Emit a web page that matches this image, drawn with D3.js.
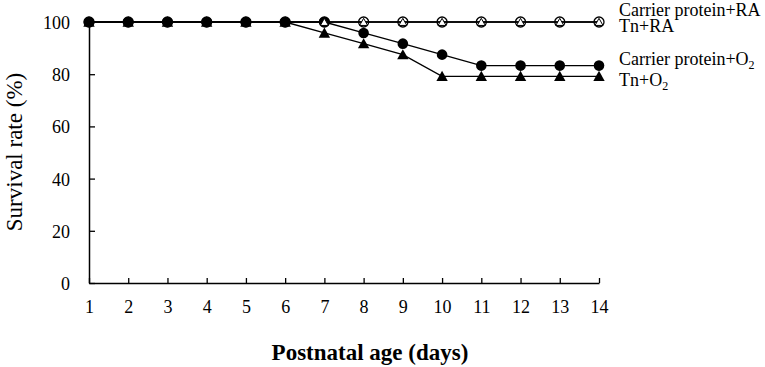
<!DOCTYPE html>
<html>
<head>
<meta charset="utf-8">
<script src="https://cdn.jsdelivr.net/npm/d3@7"></script>
<style>
  html, body { margin: 0; padding: 0; background: #fff; }
  svg text { font-family: "Liberation Serif", "DejaVu Serif", serif; fill: #000; }
</style>
</head>
<body>
<div id="chart"></div>
<script>
// days on x axis
const days = [1, 2, 3, 4, 5, 6, 7, 8, 9, 10, 11, 12, 13, 14];
const yTicks = [0, 20, 40, 60, 80, 100];

// survival rate (%)
const carrierRA = [100, 100, 100, 100, 100, 100, 100, 100, 100, 100, 100, 100, 100, 100];
const tnRA      = [100, 100, 100, 100, 100, 100, 100, 100, 100, 100, 100, 100, 100, 100];
const carrierO2 = [100, 100, 100, 100, 100, 100, 100, 95.8, 91.7, 87.5, 83.3, 83.3, 83.3, 83.3];
const tnO2      = [100, 100, 100, 100, 100, 100, 95.8, 91.7, 87.5, 79.2, 79.2, 79.2, 79.2, 79.2];

const w = 765, h = 367;
const pLeft = 89, pRight = 599, pTop = 22, pBottom = 283;

const svg = d3.select("#chart").append("svg")
  .attr("width", w).attr("height", h);

const x = d3.scaleLinear().domain([1, 14]).range([pLeft, pRight]);
const y = d3.scaleLinear().domain([0, 100]).range([pBottom, pTop]);

// axes
const xAxis = d3.axisBottom(x).tickValues(days).tickSizeInner(-5).tickSizeOuter(0).tickPadding(17);
const yAxis = d3.axisLeft(y).tickValues(yTicks).tickSizeInner(-6).tickSizeOuter(0).tickPadding(19);

const gx = svg.append("g").attr("transform", "translate(0," + pBottom + ")").call(xAxis);
const gy = svg.append("g").attr("transform", "translate(" + pLeft + ",0)").call(yAxis);

[gx, gy].forEach(g => {
  g.attr("font-family", null);
  g.select(".domain").attr("stroke", "#000").attr("stroke-width", 1.5);
  g.selectAll(".tick line").attr("stroke", "#000").attr("stroke-width", 1.3);
  g.selectAll(".tick text").style("font-size", "18px").attr("fill", "#000");
});
gy.selectAll(".tick text").attr("dy", "0.36em");
gx.selectAll(".tick text").attr("dy", "0.72em");

// axis titles
svg.append("text")
  .attr("transform", "translate(22,152) rotate(-90)")
  .attr("text-anchor", "middle")
  .style("font-size", "23px")
  .text("Survival rate (%)");

svg.append("text")
  .attr("x", 370).attr("y", 360)
  .attr("text-anchor", "middle")
  .style("font-size", "23px").style("font-weight", "bold")
  .text("Postnatal age (days)");

// lines
const line = d3.line().x((d, i) => x(days[i])).y(d => y(d));
[carrierRA, tnRA, carrierO2, tnO2].forEach(s => {
  svg.append("path").datum(s)
    .attr("fill", "none").attr("stroke", "#000").attr("stroke-width", 1.3)
    .attr("d", line);
});

const tri = (r) => "M0," + (-r) + "L" + (r * 0.95) + "," + (r * 0.7) + "L" + (-r * 0.95) + "," + (r * 0.7) + "Z";

// carrier protein + O2 : filled circles
svg.append("g").selectAll("circle").data(carrierO2).join("circle")
  .attr("cx", (d, i) => x(days[i])).attr("cy", d => y(d))
  .attr("r", 5.3).attr("fill", "#000");

// carrier protein + RA : open circles
svg.append("g").selectAll("circle").data(carrierRA).join("circle")
  .attr("cx", (d, i) => x(days[i])).attr("cy", d => y(d))
  .attr("r", 5).attr("fill", "none").attr("stroke", "#000").attr("stroke-width", 1.3);

// Tn + RA : open triangles
svg.append("g").selectAll("path").data(tnRA).join("path")
  .attr("transform", (d, i) => "translate(" + x(days[i]) + "," + (y(d) + 0.5) + ")")
  .attr("d", tri(4.2)).attr("fill", "#fff").attr("stroke", "#000").attr("stroke-width", 1);

// Tn + O2 : filled triangles
svg.append("g").selectAll("path").data(tnO2).join("path")
  .attr("transform", (d, i) => "translate(" + x(days[i]) + "," + (y(d) + 0.5) + ")")
  .attr("d", tri(6)).attr("fill", "#000");

// legend labels
const lg = svg.append("g").style("font-size", "18px");
lg.append("text").attr("x", 619).attr("y", 16).text("Carrier protein+RA");
lg.append("text").attr("x", 619).attr("y", 32).text("Tn+RA");
const t3 = lg.append("text").attr("x", 619).attr("y", 65).text("Carrier protein+O");
t3.append("tspan").attr("dy", 4).style("font-size", "12px").text("2");
const t4 = lg.append("text").attr("x", 619).attr("y", 86).text("Tn+O");
t4.append("tspan").attr("dy", 4).style("font-size", "12px").text("2");
</script>
</body>
</html>
